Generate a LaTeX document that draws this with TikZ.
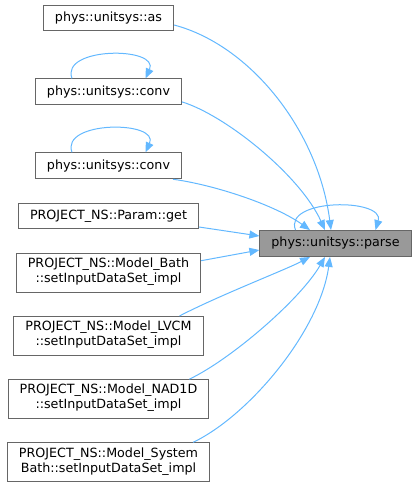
\documentclass[tikz,border=0pt]{standalone}
\usepackage{fontspec}
\setmainfont{DejaVu Sans}
\usepackage{xcolor}
\usetikzlibrary{arrows.meta, positioning}
\definecolor{edgeblue}{HTML}{63B8FF}
\definecolor{boxgray}{HTML}{666666}
\definecolor{focusgray}{HTML}{999999}
\tikzset{
  block/.style={rectangle, draw=boxgray, fill=white, line width=1pt, align=center,
                inner xsep=11.5pt, inner ysep=6.7pt, text height=9.5pt, text depth=3pt,
                font=\fontsize{12.7}{15}\selectfont},
  block2/.style={block, text height=22.5pt},
  focus/.style={block, fill=focusgray},
  arrow/.style={-{Triangle[length=10pt, width=8pt]}, draw=edgeblue, line width=1pt}
}

\begin{document}
\begin{tikzpicture}[x=1pt, y=1pt, node distance=23.3pt]
  \useasboundingbox (0,0) rectangle (417,-489);

  \node[block] (as) at (108.5,-18) {phys::unitsys::as};

  \node[block, below=47pt of as] (conv1) {phys::unitsys::conv};

  \node[block, below=47pt of conv1] (conv2) {phys::unitsys::conv};

  \node[block, below=of conv2] (param) {PROJECT\_NS::Param::get};

  \node[block2, below=of param] (bath)
    {PROJECT\_NS::Model\_Bath\\::setInputDataSet\_impl};

  \node[block2, below=of bath] (lvcm)
    {PROJECT\_NS::Model\_LVCM\\::setInputDataSet\_impl};

  \node[block2, below=of lvcm] (nad)
    {PROJECT\_NS::Model\_NAD1D\\::setInputDataSet\_impl};

  \node[block2, below=of nad] (sysbath)
    {PROJECT\_NS::Model\_System\\Bath::setInputDataSet\_impl};

  \node[focus] (parse) at (335.5,-243.5) {phys::unitsys::parse};

  % callers above
  \draw[arrow] ([yshift=-7pt]as.east) .. controls (250,-45) and (318,-130) .. ([xshift=-4.5pt]parse.north);
  \draw[arrow] ([yshift=-10pt]conv1.east) .. controls (225,-115) and (300,-175) .. ([xshift=-10.5pt]parse.north);
  \draw[arrow] ([xshift=-9pt]conv2.south east) .. controls (215,-185) and (275,-205) .. ([xshift=-25.5pt]parse.north);
  \draw[arrow] ([yshift=-11pt]param.east) -- ([yshift=7.5pt]parse.west);
  \draw[arrow] ([yshift=12pt]bath.east) -- ([yshift=-6.5pt]parse.west);

  % callers below
  \draw[arrow] ([xshift=-24pt]lvcm.north east) .. controls (220,-295) and (285,-270) .. ([xshift=-25.5pt]parse.south);
  \draw[arrow] ([xshift=-20pt]nad.north east) .. controls (230,-360) and (300,-300) .. ([xshift=-10.5pt]parse.south);
  \draw[arrow] ([xshift=-17pt]sysbath.north east) .. controls (250,-415) and (320,-330) .. ([xshift=-5.5pt]parse.south);

  % self calls
  \draw[arrow] ([xshift=-36.5pt]conv1.north) .. controls +(-12,32) and +(14.5,32) .. ([xshift=37pt]conv1.north);
  \draw[arrow] ([xshift=-36.5pt]conv2.north) .. controls +(-12,32) and +(14.5,32) .. ([xshift=37pt]conv2.north);
  \draw[arrow] ([xshift=-40pt]parse.north) .. controls +(-12.5,32) and +(9.5,32) .. ([xshift=40pt]parse.north);

\end{tikzpicture}
\end{document}
